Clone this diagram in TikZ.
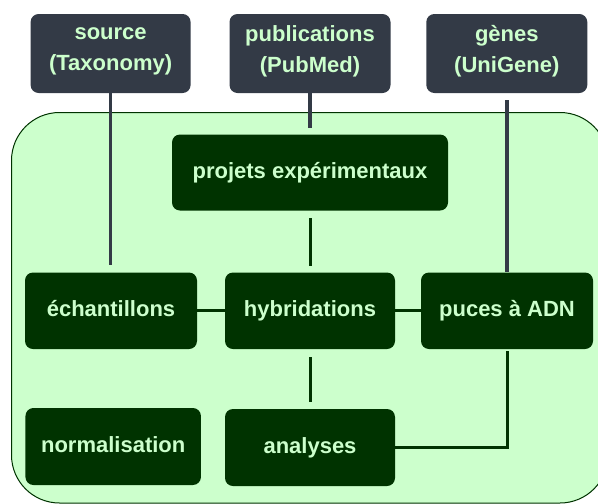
\documentclass[tikz,border=0pt]{standalone}
\usepackage{fontspec}
\setmainfont{Liberation Sans}
\definecolor{slate}{HTML}{333A46}
\definecolor{dkgreen}{HTML}{003300}
\definecolor{ltgreen}{HTML}{CCFFCC}
\begin{document}
\begin{tikzpicture}[x=1pt,y=-1pt,
  topbox/.style={rectangle, rounded corners=8pt, fill=slate, inner sep=0pt},
  toptext/.style={text=ltgreen, align=center, font=\fontsize{22}{31}\selectfont\bfseries, inner sep=0pt},
  inbox/.style={rectangle, rounded corners=8pt, fill=dkgreen, inner sep=0pt, text=ltgreen, text height=15.5pt, text depth=4.5pt, font=\fontsize{22}{26}\selectfont\bfseries},
  topline/.style={draw=slate, line width=3.5pt},
  inline/.style={draw=dkgreen, line width=3pt}]
\useasboundingbox (0,0) rectangle (598,504);
\clip (0,0) rectangle (598,504);
% panel
\draw[fill=ltgreen, draw=dkgreen, line width=1pt, rounded corners=48pt] (11.5,112.5) rectangle (608,503);
% top boxes
\node[topbox, minimum width=160pt, minimum height=79pt] (src) at (110.6,53.5) {};
\node[topbox, minimum width=161pt, minimum height=79pt] (pub) at (310,53.5) {};
\node[topbox, minimum width=161pt, minimum height=79pt] (gen) at (506.8,53.5) {};
\node[toptext] (srcT) at ([yshift=2pt]src.center) {source\\(Taxonomy)};
\node[toptext] (pubT) at ([yshift=2pt]pub.center) {publications\\(PubMed)};
\node[toptext] (genT) at ([yshift=2pt]gen.center) {gènes\\(UniGene)};
% inner boxes
\node[inbox, minimum width=276pt, minimum height=76pt] (proj) at (310,172.5) {projets expérimentaux};
\node[inbox, minimum width=172pt, minimum height=76.5pt] (ech) at (111,310.75) {échantillons};
\node[inbox, minimum width=170pt, minimum height=76.5pt] (hyb) at (310,310.75) {hybridations};
\node[inbox, minimum width=172pt, minimum height=76.5pt] (puce) at (507,310.75) {puces à ADN};
\node[inbox, minimum width=175.5pt, minimum height=77pt] (norm) at (113.2,446.5) {normalisation};
\node[inbox, minimum width=170pt, minimum height=77pt] (ana) at (310,447.5) {analyses};
% connectors from top boxes
\draw[topline, shorten >=7.5pt] (src.south) -- (src.south |- ech.north);
\draw[topline, shorten >=6.5pt] (pub.south) -- (proj.north);
\draw[topline, shorten <=7pt] (gen.south -| puce.north) -- (puce.north);
% inner connectors
\draw[inline, shorten <=7.5pt, shorten >=6.5pt] (proj.south) -- (hyb.north);
\draw[inline] (ech.east) -- (hyb.west);
\draw[inline] (hyb.east) -- (puce.west);
\draw[inline, shorten <=8pt, shorten >=7pt] (hyb.south) -- (ana.north);
\draw[inline, shorten <=2pt] (puce.south) -- (puce.south |- ana.east) -- (ana.east);
\end{tikzpicture}
\end{document}
